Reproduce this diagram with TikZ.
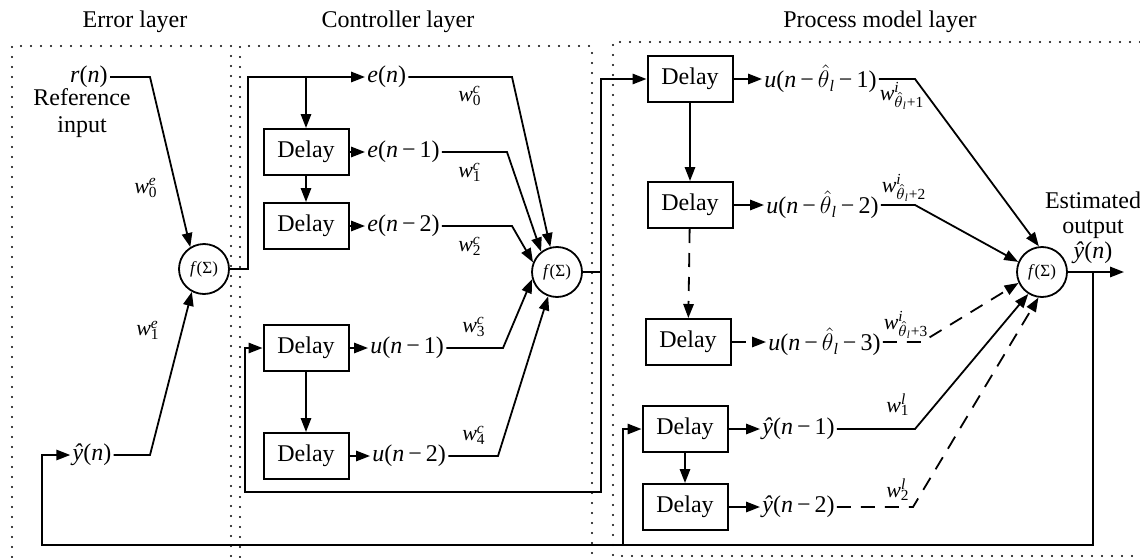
\documentclass[tikz,border=0pt]{standalone}
\usepackage{fontspec}
\setmainfont{Liberation Serif}
\usetikzlibrary{arrows.meta}
\newcommand\iv[1]{\textit{#1}}
\newcommand\mn{\,−\,}
\newcommand\thl{$\hat{\theta}$\textsubscript{\iv{l}}}
\newcommand\wgt[2]{\iv{w}\rlap{\textsuperscript{\iv{#1}}}\textsubscript{#2}}
\begin{document}
\begin{tikzpicture}[x=0.5pt,y=-0.5pt,
  every node/.style={font=\fontsize{12}{13.5}\selectfont},
  lay/.style={line width=1.1pt,dash pattern=on 0pt off 5pt,line cap=round},
  wire/.style={line width=0.9pt},
  arr/.style={wire,-{Triangle[length=7pt,width=5.2pt]}},
  dsh/.style={dash pattern=on 7pt off 5pt},
  dbox/.style={draw,line width=1pt,minimum width=42.5pt,minimum height=23pt,inner sep=0pt},
  sumc/.style={draw,circle,line width=0.9pt,minimum size=25pt,inner sep=0pt,font=\fontsize{8.5}{9}\selectfont},
  sig/.style={inner sep=1pt},
  wt/.style={inner sep=0pt,font=\fontsize{11}{12}\selectfont}
]
\useasboundingbox (0,0) rectangle (1140,557);
% layer frames
\draw[lay] (12,557) -- (12,46) -- (231,46) -- (231,557);
\draw[lay] (240,557) -- (240,46) -- (592,46) -- (592,557);
\draw[lay] (1140,42) -- (613,42) -- (613,556) -- (1140,556);
\node (t1) at (135,22) {Error layer};
\node (t2) at (398,22) {Controller layer};
\node (t3) at (880,22) {Process model layer};
% error layer
\node[sig,anchor=east] (rn) at (110,77) {\iv{r}(\iv{n})};
\node[align=center] (refin) at (82,113) {Reference\\input};
\node[sig] (yn) at (92,455) {\iv{ŷ}(\iv{n})};
\node[sumc] (ec) at (204,269) {\iv{f}(Σ)};
\draw[arr] (rn.east) -- (150,77) -- (ec.122);
\draw[arr] (yn.east) -- (150,455) -- (ec.-118);
\node[wt] (we0) at (146,188) {\wgt{e}{0}};
\node[wt] (we1) at (148,330) {\wgt{e}{1}};
% controller layer
\node[sig,anchor=west] (en) at (365,77) {\iv{e}(\iv{n})};
\node[dbox] (d1) at (306,152) {Delay};
\node[dbox] (d2) at (306,226) {Delay};
\node[dbox] (d3) at (306,348) {Delay};
\node[dbox] (d4) at (306,456) {Delay};
\coordinate (b1) at (306,77);
\draw[arr] (ec.east) -- (248,269) -- (248,77) -- (en.west);
\draw[arr] (b1) -- (d1.north);
\draw[arr] (d1) -- (d2);
\draw[arr] (d3) -- (d4);
\node[sig,anchor=west] (en1) at (365,152) {\iv{e}(\iv{n}\mn1)};
\node[sig,anchor=west] (en2) at (365,226) {\iv{e}(\iv{n}\mn2)};
\node[sig,anchor=west] (un1) at (368,348) {\iv{u}(\iv{n}\mn1)};
\node[sig,anchor=west] (un2) at (370,456) {\iv{u}(\iv{n}\mn2)};
\draw[arr] (d1.east) -- (en1.west);
\draw[arr] (d2.east) -- (en2.west);
\draw[arr] (d3.east) -- (un1.west);
\draw[arr] (d4.east) -- (un2.west);
\node[sumc] (cc) at (557,272) {\iv{f}(Σ)};
\draw[arr] (en.east) -- (512,77) -- (cc.105);
\draw[arr] (en1.east) -- (507,152) -- (cc.128);
\draw[arr] (en2.east) -- (512,226) -- (cc.158);
\draw[arr] (un1.east) -- (503,348) -- (cc.196);
\draw[arr] (un2.east) -- (498,456) -- (cc.250);
\node[wt] (wc0) at (470,96) {\wgt{c}{0}};
\node[wt] (wc1) at (470,172) {\wgt{c}{1}};
\node[wt] (wc2) at (470,246) {\wgt{c}{2}};
\node[wt] (wc3) at (474,327) {\wgt{c}{3}};
\node[wt] (wc4) at (474,435) {\wgt{c}{4}};
% process model layer
\node[dbox] (p1) at (690,79) {Delay};
\node[dbox] (p2) at (690,205) {Delay};
\node[dbox] (p3) at (688,342) {Delay};
\node[dbox] (p4) at (685,429) {Delay};
\node[dbox] (p5) at (685,507) {Delay};
\coordinate (c1) at (601,272);
\draw[arr] (cc.east) -- (c1) -- (601,79) -- (p1.west);
\draw[arr] (c1) -- (601,492) -- (245,492) -- (245,348) -- (d3.west);
\draw[arr] (p1) -- (p2);
\draw[arr,dsh] (p2) -- (p3);
\draw[arr] (p4) -- (p5);
\node[sig,anchor=west] (ut1) at (762,79) {\iv{u}(\iv{n}\mn\thl\mn1)};
\node[sig,anchor=west] (ut2) at (764,205) {\iv{u}(\iv{n}\mn\thl\mn2)};
\node[sig,anchor=west] (ut3) at (766,342) {\iv{u}(\iv{n}\mn\thl\mn3)};
\node[sig,anchor=west] (yh1) at (760,429) {\iv{ŷ}(\iv{n}\mn1)};
\node[sig,anchor=west] (yh2) at (760,507) {\iv{ŷ}(\iv{n}\mn2)};
\draw[arr] (p1.east) -- (ut1.west);
\draw[arr] (p2.east) -- (ut2.west);
\draw[arr,dsh] (p3.east) -- (ut3.west);
\draw[arr] (p4.east) -- (yh1.west);
\draw[arr] (p5.east) -- (yh2.west);
\node[sumc] (rc) at (1042,272) {\iv{f}(Σ)};
\draw[arr] (ut1.east) -- (915,79) -- (rc.97);
\draw[arr] (ut2.east) -- (915,205) -- (rc.157);
\draw[arr,dsh] (ut3.east) -- (922,342) -- (rc.205);
\draw[arr] (yh1.east) -- (915,429) -- (rc.238);
\draw[arr,dsh] (yh2.east) -- (913,507) -- (rc.262);
\node[wt] (wi1) at (902,96) {\wgt{i}{\thl+1}};
\node[wt] (wi2) at (904,188) {\wgt{i}{\thl+2}};
\node[wt] (wi3) at (906,325) {\wgt{i}{\thl+3}};
\node[wt] (wl1) at (898,405) {\wgt{l}{1}};
\node[wt] (wl2) at (898,490) {\wgt{l}{2}};
\node[align=center,font=\fontsize{12}{12.5}\selectfont] (est) at (1093,228) {Estimated\\output\\\iv{ŷ}(\iv{n})};
\coordinate (out) at (1124,272);
\coordinate (c2) at (1093,272);
\draw[arr] (rc.east) -- (out);
\draw[arr] (c2) -- (1093,545) -- (42,545) -- (42,455) -- (yn.west);
\draw[arr] (623,545) -- (623,429) -- (p4.west);
\end{tikzpicture}
\end{document}
